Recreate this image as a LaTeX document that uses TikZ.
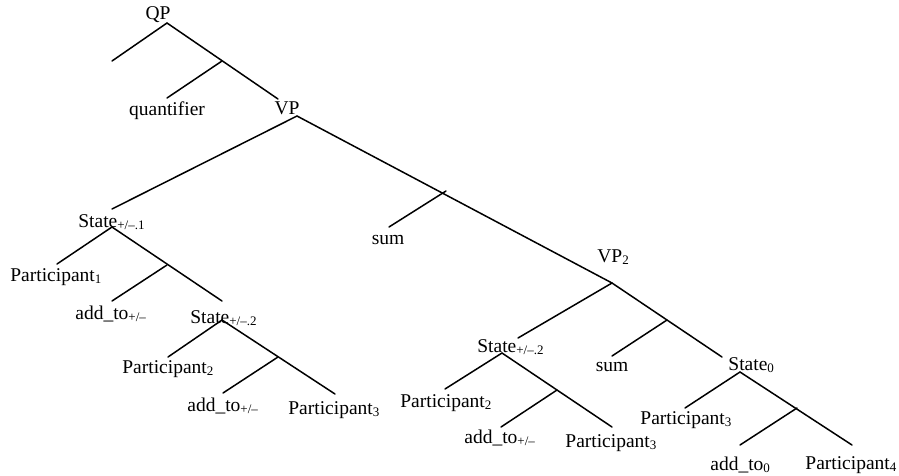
\documentclass[tikz,border=0pt]{standalone}
\usepackage{fontspec}
\setmainfont{Liberation Serif}
\usepackage{tikz}
\usetikzlibrary{positioning}
\tikzset{every picture/.append style={thick}}
\tikzset{
  lbl/.style={inner sep=0pt, font=\fontsize{19.5}{22}\selectfont},
  branch/.style={line width=1.5pt, line cap=round}
}
\newcommand{\lowsub}[1]{\raisebox{-2.5pt}{\fontsize{13}{13}\selectfont #1}}

\begin{document}
\begin{tikzpicture}[x=1pt, y=-1pt]
    \useasboundingbox (0,0) rectangle (899,475);

    % QP
    \node[lbl] (QP) at (158,15) {QP};
    \coordinate (qp) at (167,23);
    \coordinate (qpL) at (112,61);
    \coordinate (qpM) at (222,61);
    \coordinate (quantE) at (167,98);
    \coordinate (vpE) at (278,99);
    \node[lbl] (quant) at (167,111) {quantifier};
    \node[lbl] (VP) at (287,108) {VP};
    \draw[branch] (qp) -- (qpL);
    \draw[branch] (qp) -- (vpE);
    \draw[branch] (qpM) -- (quantE);

    % VP
    \coordinate (vp) at (297,116);
    \coordinate (stA) at (112,209);
    \coordinate (vpM) at (446,191);
    \coordinate (sumE) at (389,227);
    \coordinate (vpTwo) at (612,283);
    \node[lbl] (sum) at (388,240) {sum};
    \node[lbl, anchor=west] (VPtwo) at (597,257) {VP\lowsub{2}};
    \draw[branch] (vp) -- (stA);
    \draw[branch] (vp) -- (vpTwo);
    \draw[branch] (vpM) -- (sumE);

    % State +/-.1
    \node[lbl, anchor=west] (stateA) at (78,222) {State\lowsub{+/–.1}};
    \coordinate (sA) at (112,227);
    \coordinate (pAE) at (57,264);
    \coordinate (sAM) at (167,265);
    \coordinate (addAE) at (112,301);
    \coordinate (stB) at (222,301);
    \node[lbl, anchor=west] (partA) at (10,277) {Participant\lowsub{1}};
    \node[lbl, anchor=west] (addA) at (75,314) {add\_to\lowsub{+/–}};
    \node[lbl, anchor=west] (stateB) at (190,318) {State\lowsub{+/–.2}};
    \draw[branch] (sA) -- (pAE);
    \draw[branch] (sA) -- (stB);
    \draw[branch] (sAM) -- (addAE);

    % State +/-.2 (left)
    \coordinate (sB) at (222,320);
    \coordinate (pBE) at (168,357);
    \coordinate (sBM) at (278,357);
    \coordinate (addBE) at (223,393);
    \coordinate (pCE) at (335,394);
    \node[lbl, anchor=west] (partB) at (122,369) {Participant\lowsub{2}};
    \node[lbl, anchor=west] (addB) at (187,406) {add\_to\lowsub{+/–}};
    \node[lbl, anchor=west] (partC) at (288,410) {Participant\lowsub{3}};
    \draw[branch] (sB) -- (pBE);
    \draw[branch] (sB) -- (pCE);
    \draw[branch] (sBM) -- (addBE);

    % VP2
    \coordinate (stC) at (518,338);
    \coordinate (vpTwoM) at (667,320);
    \coordinate (sumTwoE) at (612,356);
    \coordinate (stZ) at (722,357);
    \node[lbl, anchor=west] (stateC) at (477,347) {State\lowsub{+/–.2}};
    \node[lbl] (sumTwo) at (612,367) {sum};
    \node[lbl, anchor=west] (stateZ) at (728,365) {State\lowsub{0}};
    \draw[branch] (vpTwo) -- (stC);
    \draw[branch] (vpTwo) -- (stZ);
    \draw[branch] (vpTwoM) -- (sumTwoE);

    % State +/-.2 (right)
    \coordinate (sC) at (502,353);
    \coordinate (pDE) at (445,389);
    \coordinate (sCM) at (557,390);
    \coordinate (addCE) at (501,427);
    \coordinate (pEE) at (612,427);
    \node[lbl, anchor=west] (partD) at (400,403) {Participant\lowsub{2}};
    \node[lbl, anchor=west] (addC) at (464,438) {add\_to\lowsub{+/–}};
    \node[lbl, anchor=west] (partE) at (565,443) {Participant\lowsub{3}};
    \draw[branch] (sC) -- (pDE);
    \draw[branch] (sC) -- (pEE);
    \draw[branch] (sCM) -- (addCE);

    % State 0
    \coordinate (sZ) at (740,372);
    \coordinate (pFE) at (685,408);
    \coordinate (sZM) at (797,408);
    \coordinate (addZE) at (740,445);
    \coordinate (pGE) at (852,445);
    \node[lbl, anchor=west] (partF) at (640,420) {Participant\lowsub{3}};
    \node[lbl, anchor=west] (addZ) at (710,465) {add\_to\lowsub{0}};
    \node[lbl, anchor=west] (partG) at (805,465) {Participant\lowsub{4}};
    \draw[branch] (sZ) -- (pFE);
    \draw[branch] (sZ) -- (pGE);
    \draw[branch] (sZM) -- (addZE);
\end{tikzpicture}
\end{document}
